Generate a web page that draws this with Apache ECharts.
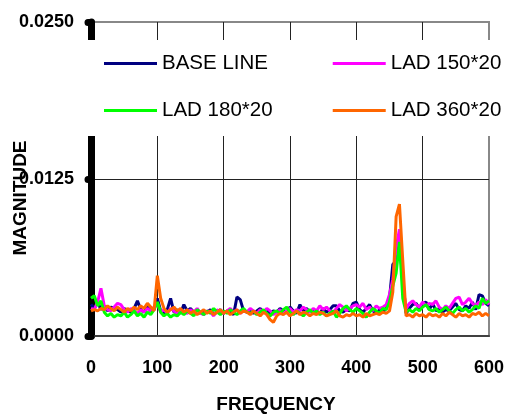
<!DOCTYPE html>
<html><head><meta charset="utf-8">
<script src="https://cdn.jsdelivr.net/npm/echarts@6/dist/echarts.min.js"></script>
<style>html,body{margin:0;padding:0;background:#fff}#c{width:512px;height:414px}</style>
</head><body><div id="c"></div>
<script>
const frequency = [];
for (let f = 0; f <= 600; f += 5) frequency.push(f);

const seriesNames = ['BASE LINE', 'LAD 150*20', 'LAD 180*20', 'LAD 360*20'];

const baseLine = [0.0025,0.0022,0.0027,0.0021,0.0024,0.0020,0.0023,0.0022,0.0021,0.0019,0.0022,0.0020,0.0019,0.0022,0.0028,0.0021,0.0019,0.0023,0.0020,0.0021,
0.0030,0.0020,0.0018,0.0021,0.0030,0.0019,0.0021,0.0018,0.0025,0.0020,0.0022,0.0019,0.0021,0.0018,0.0020,0.0019,0.0021,0.0017,0.0019,0.0021,
0.0018,0.0020,0.0019,0.0017,0.0031,0.0029,0.0020,0.0019,0.0021,0.0018,0.0020,0.0022,0.0019,0.0021,0.0018,0.0020,0.0019,0.0022,0.0020,0.0019,
0.0023,0.0020,0.0018,0.0025,0.0020,0.0022,0.0019,0.0021,0.0020,0.0018,0.0022,0.0019,0.0021,0.0024,0.0024,0.0020,0.0019,0.0021,0.0020,0.0026,
0.0027,0.0021,0.0019,0.0022,0.0025,0.0020,0.0018,0.0021,0.0019,0.0022,0.0030,0.0057,0.0060,0.0075,0.0045,0.0018,0.0022,0.0025,0.0026,0.0022,
0.0026,0.0027,0.0021,0.0026,0.0020,0.0022,0.0019,0.0021,0.0020,0.0023,0.0026,0.0021,0.0020,0.0024,0.0022,0.0027,0.0021,0.0033,0.0032,0.0026,0.0024];

const lad150 = [0.0022,0.0021,0.0027,0.0038,0.0024,0.0021,0.0020,0.0023,0.0026,0.0025,0.0021,0.0019,0.0022,0.0020,0.0018,0.0021,0.0019,0.0022,0.0020,0.0023,
0.0026,0.0019,0.0021,0.0018,0.0022,0.0020,0.0017,0.0021,0.0019,0.0018,0.0021,0.0019,0.0022,0.0018,0.0017,0.0020,0.0019,0.0016,0.0021,0.0019,
0.0018,0.0020,0.0022,0.0019,0.0021,0.0018,0.0020,0.0019,0.0022,0.0020,0.0018,0.0021,0.0019,0.0022,0.0020,0.0017,0.0019,0.0021,0.0018,0.0020,
0.0022,0.0019,0.0021,0.0020,0.0023,0.0021,0.0019,0.0022,0.0020,0.0024,0.0021,0.0023,0.0020,0.0019,0.0022,0.0025,0.0023,0.0020,0.0022,0.0024,
0.0025,0.0023,0.0026,0.0021,0.0023,0.0020,0.0024,0.0022,0.0023,0.0025,0.0033,0.0045,0.0070,0.0085,0.0040,0.0022,0.0026,0.0028,0.0025,0.0023,
0.0027,0.0024,0.0026,0.0025,0.0028,0.0023,0.0021,0.0024,0.0022,0.0026,0.0030,0.0031,0.0025,0.0027,0.0030,0.0026,0.0024,0.0027,0.0025,0.0029,0.0025];

const lad180 = [0.0030,0.0032,0.0024,0.0028,0.0019,0.0016,0.0018,0.0015,0.0017,0.0016,0.0019,0.0015,0.0017,0.0020,0.0016,0.0018,0.0015,0.0019,0.0017,0.0021,
0.0027,0.0019,0.0016,0.0018,0.0015,0.0017,0.0016,0.0019,0.0017,0.0020,0.0018,0.0016,0.0021,0.0019,0.0017,0.0020,0.0018,0.0022,0.0019,0.0017,
0.0020,0.0018,0.0021,0.0019,0.0017,0.0020,0.0022,0.0019,0.0018,0.0020,0.0017,0.0019,0.0021,0.0018,0.0016,0.0019,0.0020,0.0018,0.0021,0.0023,
0.0019,0.0017,0.0020,0.0018,0.0016,0.0019,0.0021,0.0018,0.0020,0.0017,0.0019,0.0016,0.0018,0.0020,0.0015,0.0018,0.0022,0.0024,0.0021,0.0019,
0.0022,0.0020,0.0018,0.0015,0.0019,0.0022,0.0020,0.0018,0.0022,0.0021,0.0027,0.0040,0.0050,0.0075,0.0030,0.0019,0.0021,0.0019,0.0022,0.0020,
0.0023,0.0025,0.0021,0.0020,0.0022,0.0019,0.0021,0.0023,0.0020,0.0018,0.0021,0.0023,0.0020,0.0022,0.0019,0.0021,0.0024,0.0022,0.0030,0.0026,0.0028];

const lad360 = [0.0020,0.0021,0.0020,0.0022,0.0021,0.0024,0.0022,0.0020,0.0023,0.0021,0.0019,0.0022,0.0020,0.0023,0.0021,0.0024,0.0022,0.0026,0.0023,0.0020,
0.0048,0.0030,0.0022,0.0019,0.0021,0.0023,0.0020,0.0022,0.0019,0.0021,0.0018,0.0020,0.0017,0.0019,0.0021,0.0018,0.0020,0.0017,0.0019,0.0021,
0.0018,0.0020,0.0017,0.0019,0.0021,0.0018,0.0020,0.0019,0.0017,0.0020,0.0018,0.0016,0.0019,0.0017,0.0013,0.0011,0.0016,0.0018,0.0017,0.0019,
0.0016,0.0018,0.0020,0.0017,0.0019,0.0018,0.0016,0.0018,0.0017,0.0019,0.0018,0.0016,0.0017,0.0018,0.0020,0.0016,0.0015,0.0017,0.0016,0.0018,
0.0016,0.0017,0.0015,0.0018,0.0016,0.0017,0.0018,0.0017,0.0019,0.0018,0.0020,0.0035,0.0095,0.0105,0.0060,0.0016,0.0017,0.0015,0.0018,0.0016,
0.0017,0.0015,0.0018,0.0016,0.0017,0.0015,0.0018,0.0016,0.0019,0.0017,0.0015,0.0018,0.0016,0.0017,0.0015,0.0018,0.0017,0.0019,0.0016,0.0018,0.0016];

const yTicks = [0, 0.0125, 0.025];
const colors = ['#000080', '#FF00FF', '#00FF00', '#FF6600'];
const allValues = [baseLine, lad150, lad180, lad360];

const FONT = '"Liberation Sans", Arial, sans-serif';
const chart = echarts.init(document.getElementById('c'), null, {renderer: 'canvas'});

chart.setOption({
  animation: false,
  backgroundColor: '#fff',
  grid: {left: 91, right: 23, top: 22, bottom: 78, show: true, borderColor: '#888', borderWidth: 2, backgroundColor: 'transparent'},
  legend: {
    data: [seriesNames[0], seriesNames[2], seriesNames[1], seriesNames[3]],
    orient: 'vertical', left: 86, top: 40, height: 80,
    padding: [13, 0, 15, 18], itemGap: 26, itemWidth: 53, itemHeight: 20,
    backgroundColor: '#fff', borderWidth: 0,
    icon: 'path://M0,0L53,0L53,3L0,3Z',
    formatter: name => name + '\u00a0\u00a0\u00a0\u00a0\u00a0\u00a0',
    textStyle: {fontFamily: FONT, fontSize: 20.5, color: '#000'}
  },
  xAxis: {
    type: 'value', min: 0, max: 600, interval: 100,
    axisLine: {show: true, lineStyle: {color: '#404040', width: 2}},
    axisTick: {show: false},
    axisLabel: {fontFamily: FONT, fontSize: 18, fontWeight: 'bold', color: '#000', margin: 23},
    splitLine: {show: true, lineStyle: {color: ['#222', '#222', '#222', '#222', '#222', '#222', 'rgba(0,0,0,0)'], width: 1}}
  },
  yAxis: {
    type: 'value', min: yTicks[0], max: yTicks[2], interval: yTicks[1],
    axisLine: {show: true, lineStyle: {color: '#000', width: 7}},
    axisTick: {show: true, length: 3, lineStyle: {color: '#000', width: 7, cap: 'round'}},
    axisLabel: {fontFamily: FONT, fontSize: 18, fontWeight: 'bold', color: '#000', margin: 17,
      formatter: v => v.toFixed(4)},
    splitLine: {show: true, lineStyle: {color: ['#222', '#222', 'rgba(0,0,0,0)'], width: 1}}
  },
  graphic: [
    {type: 'text', x: 276, y: 405, style: {text: 'FREQUENCY', font: 'bold 19px ' + FONT, fill: '#000', align: 'center', verticalAlign: 'middle'}},
    {type: 'text', x: 21, y: 198, rotation: Math.PI / 2, style: {text: 'MAGNITUDE', font: 'bold 19px ' + FONT, fill: '#000', align: 'center', verticalAlign: 'middle'}}
  ],
  series: seriesNames.map((n, i) => ({
    name: n, type: 'line', symbol: 'none', showSymbol: false,
    data: frequency.map((f, k) => [f, allValues[i][k]]),
    lineStyle: {color: colors[i], width: 3},
    itemStyle: {color: colors[i]},
    z: 2 + i
  }))
});
</script></body></html>
